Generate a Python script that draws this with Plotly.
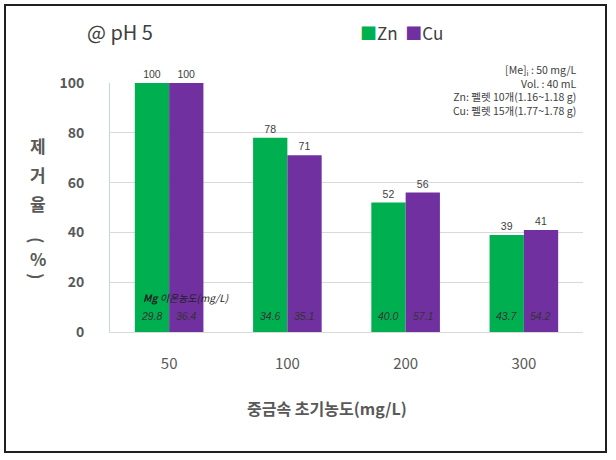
import plotly.graph_objects as go

categories = ["50", "100", "200", "300"]
series_names = ["Zn", "Cu"]
zn_removal = [100, 78, 52, 39]
cu_removal = [100, 71, 56, 41]
zn_mg = ["29.8", "34.6", "40.0", "43.7"]
cu_mg = ["36.4", "35.1", "57.1", "54.2"]
y_ticks = [0, 20, 40, 60, 80, 100]

GREEN = "#00B050"
PURPLE = "#7030A0"
FONT = "Noto Sans CJK KR"
NUMFONT = "Liberation Sans"

L, R, T, B = 110, 33, 83, 128
W, H = 616, 460
pw, ph = W - L - R, H - T - B

def px(x):
    return (x - L) / pw

def py(y):
    return (H - B - y) / ph

fig = go.Figure()
for name, vals, col in [(series_names[0], zn_removal, GREEN), (series_names[1], cu_removal, PURPLE)]:
    fig.add_trace(go.Bar(name=name, x=categories, y=vals, marker_color=col,
                         text=[str(v) for v in vals], textposition="outside",
                         textfont=dict(size=10.5, color="#404040", family=NUMFONT),
                         cliponaxis=False))

ann = []
for i, (zv, cv) in enumerate(zip(zn_mg, cu_mg)):
    ann.append(dict(x=i, y=6.4, xref="x", yref="y", text="<i>" + zv + "</i>", showarrow=False,
                    xanchor="center", yanchor="middle",
                    xshift=-17, font=dict(size=10.5, color="#333333", family=NUMFONT)))
    ann.append(dict(x=i, y=6.4, xref="x", yref="y", text="<i>" + cv + "</i>", showarrow=False,
                    xanchor="center", yanchor="middle",
                    xshift=17, font=dict(size=10.5, color="#333333", family=NUMFONT)))
ann.append(dict(x=px(141), y=py(297), xref="paper", yref="paper", xanchor="left", yanchor="middle",
                text="<b><i>Mg</i></b> <i>이온농도(mg/L)</i>", showarrow=False,
                font=dict(size=10, color="#222222", family=FONT)))
ann.append(dict(x=px(85), y=py(31), xref="paper", yref="paper", xanchor="left", yanchor="middle",
                text="@ pH 5", showarrow=False, font=dict(size=20, color="#404040", family=FONT)))
legend_text = (f"<span style='color:{GREEN}'>■</span>{series_names[0]}&nbsp;&nbsp;"
               f"<span style='color:{PURPLE}'>■</span>{series_names[1]}")
ann.append(dict(x=px(358), y=py(33), xref="paper", yref="paper", xanchor="left", yanchor="middle",
                text=legend_text, showarrow=False,
                font=dict(size=17, color="#404040", family=FONT)))
ann.append(dict(x=px(580), y=py(90), xref="paper", yref="paper", xanchor="right", yanchor="middle",
                align="right", showarrow=False, bgcolor="white", borderpad=2,
                text="[Me]<sub>i</sub> : 50 mg/L<br>Vol. : 40 mL<br>Zn: 펠렛 10개(1.16~1.18 g)<br>Cu: 펠렛 15개(1.77~1.78 g)",
                font=dict(size=10.5, color="#404040", family=FONT)))
ann.append(dict(x=px(327), y=py(408), xref="paper", yref="paper", xanchor="center", yanchor="middle",
                text="<b>중금속 초기농도(mg/L)</b>",
                showarrow=False, font=dict(size=16, color="#595959", family=FONT)))
ychars = [("제", 145, 0), ("거", 174, 0), ("율", 203, 0), ("(", 240, 90), ("%", 258, 0), (")", 276, 90)]
for ch, yy, ang in ychars:
    ann.append(dict(x=px(38), y=py(yy), xref="paper", yref="paper", text="<b>" + ch + "</b>",
                    xanchor="center", yanchor="middle",
                    textangle=ang, showarrow=False,
                    font=dict(size=17, color="#595959", family=FONT)))

shapes = [dict(type="rect", xref="paper", yref="paper", x0=px(5), x1=px(606), y0=py(452), y1=py(5),
               line=dict(color="#202020", width=2), layer="below")]

fig.update_layout(
    width=W, height=H, margin=dict(l=L, r=R, t=T, b=B, autoexpand=False),
    paper_bgcolor="white", plot_bgcolor="white",
    barmode="group", bargap=0.42, bargroupgap=0,
    showlegend=False,
    annotations=ann, shapes=shapes,
    xaxis=dict(type="category", range=[-0.5, 3.5], showgrid=False, showline=True,
               linecolor="#D9D9D9", linewidth=1,
               tickfont=dict(size=15, color="#595959", family=FONT), ticklabelstandoff=18,
               ticks=""),
    yaxis=dict(range=[0, 100], tickvals=y_ticks, showgrid=True, gridcolor="#D9D9D9",
               showline=True, linecolor="#C8D4E0", linewidth=1, zeroline=False,
               tickfont=dict(size=14, color="#595959", family=FONT, weight="bold"),
               ticklabelstandoff=22, ticks=""),
)
fig.update_traces(marker_line_width=0)

fig.write_html("out.html", post_script="document.body.style.margin='0';",
               config={"displayModeBar": False})
